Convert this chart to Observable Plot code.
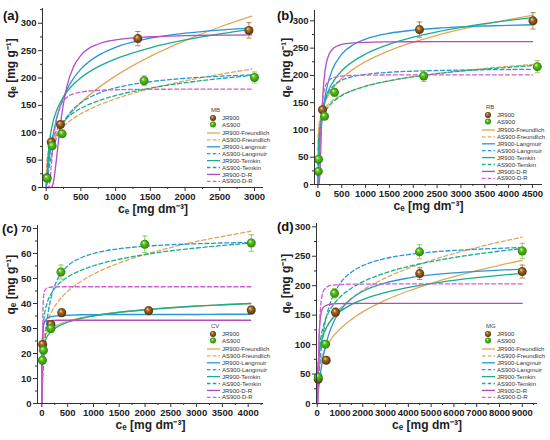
<!DOCTYPE html>
<html>
<head>
<meta charset="utf-8">
<script src="https://cdn.jsdelivr.net/npm/d3@7"></script>
<script src="https://cdn.jsdelivr.net/npm/@observablehq/plot@0.6"></script>
<style>
  body { margin: 0; background: #fff; }
  #grid { position: relative; width: 550px; height: 440px; overflow: hidden; font-family: "Liberation Sans", Arial, sans-serif; }
  .panel { position: absolute; width: 275px; height: 220px; }
  .panel svg.plotsvg { position: absolute; left: 0; top: 0; }
  .tag { position: absolute; font: bold 13px "Liberation Sans", Arial, sans-serif; color: #111; line-height: 1; }
  .legend { position: absolute; overflow: visible; }
</style>
</head>
<body>
<div id="grid"></div>
<script>
// ---------------- DATA ----------------
const modelNames = ["Freundlich", "Langmuir", "Temkin", "D-R"];
const samples = ["JR900", "AS900"];
const dyes = ["MB", "RB", "CV", "MG"];
const panelTags = ["(a)", "(b)", "(c)", "(d)"];

// Panel (a) MB
const ceA = [0, 10, 25, 50, 75, 100, 150, 200, 300, 400, 500, 750, 1000, 1500, 2000, 2500, 2960];
const jrFreundlichA = [0, 32.9, 47.3, 62.3, 73.1, 82, 96.2, 107.9, 126.6, 141.9, 155, 182, 204, 239.5, 268.4, 293.2, 313];
const jrLangmuirA   = [0, 13.4, 31.4, 57.1, 78.5, 96.6, 125.5, 147.7, 179.3, 200.8, 216.3, 241.3, 256, 272.7, 281.9, 287.6, 291.3];
const jrTemkinA     = [null, 5.7, 51.3, 85.8, 106, 120.3, 140.5, 154.9, 175, 189.4, 200.5, 220.7, 235, 255.2, 269.5, 280.6, 289];
const jrDRA         = [0, 0, 0, 0, 0.4, 6.9, 54, 111, 185.6, 222.2, 241.5, 262.2, 269.8, 275.4, 277.4, 278.3, 278.8];
const asFreundlichA = [0, 47.6, 60.7, 73, 81.3, 87.8, 97.8, 105.6, 117.6, 127, 134.7, 150.1, 162, 180.5, 194.8, 206.7, 216.5];
const asLangmuirA   = [0, 9.9, 23.3, 42.1, 57.7, 70.6, 91.2, 107, 129.3, 144.3, 154.9, 171.9, 182, 193.2, 199.4, 203.3, 205.8];
const asTemkinA     = [null, 13, 43.7, 67, 80.7, 90.4, 104, 113.8, 127.4, 137.1, 144.6, 158.3, 168, 181.7, 191.4, 198.9, 204.6];
const asDRA         = [0, 0, 0, 7.3, 43.4, 80.9, 126.1, 147.4, 164.7, 171.2, 174.3, 177.5, 178.6, 179.4, 179.6, 179.8, 179.8];
const jrPtsCeA = [10, 72, 206, 1320, 2920], jrPtsQA = [18, 83, 115, 272, 287], jrPtsErrA = [3, 4, 5, 13, 14];
const asPtsCeA = [14, 86, 230, 1410, 3000], asPtsQA = [17, 76, 98, 195, 201], asPtsErrA = [3, 4, 5, 9, 10];

// Panel (b) RB
const ceB = [0, 10, 25, 50, 75, 100, 150, 200, 300, 500, 750, 1000, 1500, 2000, 2500, 3000, 3500, 4000, 4500];
const jrFreundlichB = [0, 84.9, 103.1, 119.4, 130.1, 138.3, 150.7, 160.2, 174.6, 194.5, 212, 225.3, 245.5, 261, 273.6, 284.4, 293.9, 302.2, 310];
const jrLangmuirB   = [0, 21.4, 48.3, 83.3, 109.8, 130.5, 160.9, 182.2, 209.9, 238.9, 256.7, 266.6, 277.3, 282.9, 286.5, 288.9, 290.6, 291.9, 292.9];
const jrTemkinB     = [null, 34.8, 75.4, 106.2, 124.2, 137, 155, 167.8, 185.8, 208.5, 226.4, 239.2, 257.2, 270, 279.9, 288, 294.8, 300.8, 306];
const jrDRB         = [0, 0, 0.1, 33.8, 105.5, 157, 208.7, 230.5, 247.5, 256.7, 259.6, 260.7, 261.4, 261.7, 261.8, 261.9, 261.9, 262, 262];
const asFreundlichB = [0, 97.6, 110.3, 120.9, 127.6, 132.6, 139.9, 145.4, 153.4, 164.2, 173.3, 180.1, 190.1, 197.5, 203.4, 208.4, 212.7, 216.6, 220];
const asLangmuirB   = [0, 30.6, 62.9, 97.3, 118.9, 133.8, 152.9, 164.6, 178.3, 191.1, 198.1, 201.9, 205.8, 207.8, 209, 209.8, 210.4, 210.8, 211.2];
const asTemkinB     = [null, 65.1, 88.1, 105.4, 115.5, 122.7, 132.8, 140, 150.2, 163, 173.1, 180.3, 190.4, 197.6, 203.2, 207.8, 211.6, 214.9, 217.9];
const asDRB         = [0, 0, 2.6, 67.5, 123.8, 153, 178.1, 187.7, 195, 198.8, 200, 200.5, 200.8, 200.9, 200.9, 201, 201, 201, 201];
const jrPtsCeB = [97, 2130, 4510], jrPtsQB = [137, 284, 300], jrPtsErrB = [4, 14, 15];
const asPtsCeB = [8, 13, 139, 348, 2220, 4600], asPtsQB = [24, 46, 125, 169, 199, 216], asPtsErrB = [3, 3, 5, 7, 10, 11];

// Panel (c) CV
const ceC = [0, 2, 5, 10, 20, 30, 50, 100, 200, 300, 500, 750, 1000, 1500, 2000, 2500, 3000, 3500, 4050];
const jrFreundlichC = [0, 19.7, 21.5, 22.9, 24.4, 25.4, 26.6, 28.4, 30.3, 31.4, 33, 34.2, 35.2, 36.5, 37.5, 38.3, 38.9, 39.5, 40];
const jrLangmuirC   = [0, 10.2, 17.9, 23.8, 28.6, 30.6, 32.5, 34, 34.8, 35.1, 35.3, 35.5, 35.5, 35.6, 35.6, 35.6, 35.6, 35.7, 35.7];
const jrTemkinC     = [null, 12.6, 15.9, 18.4, 20.9, 22.4, 24.2, 26.7, 29.2, 30.7, 32.5, 34, 35, 36.5, 37.5, 38.3, 39, 39.5, 40];
const jrDRC         = [0, 0, 4.5, 20.2, 29.4, 31.5, 32.6, 33.1, 33.2, 33.3, 33.3, 33.3, 33.3, 33.3, 33.3, 33.3, 33.3, 33.3, 33.3];
const asFreundlichC = [0, 14.5, 17.5, 20.1, 23.2, 25.2, 28, 32.2, 37.2, 40.4, 44.9, 48.7, 51.7, 56.2, 59.6, 62.4, 64.8, 66.8, 68.9];
const asLangmuirC   = [0, 1.3, 3.1, 6, 11, 15.2, 22, 33, 44, 49.5, 55, 58.2, 60, 61.9, 62.9, 63.5, 63.9, 64.2, 64.4];
const asTemkinC     = [null, 14.7, 20.7, 25.2, 29.7, 32.3, 35.6, 40.1, 44.6, 47.3, 50.6, 53.2, 55.1, 57.7, 59.6, 61.1, 62.2, 63.2, 64.2];
const asDRC         = [0, 0, 0.9, 17.2, 36.4, 41.8, 44.9, 46.2, 46.6, 46.7, 46.7, 46.7, 46.7, 46.7, 46.7, 46.7, 46.7, 46.7, 46.7];
const jrPtsCeC = [15, 175, 385, 2070, 4060], jrPtsQC = [23.6, 31.6, 36.3, 37.1, 37.4], jrPtsErrC = [1, 1.2, 1.5, 1.5, 1.5];
const asPtsCeC = [10, 30, 175, 370, 1995, 4060], asPtsQC = [17.3, 21.3, 30, 52.6, 63.7, 64.2], asPtsErrC = [1, 1, 1.5, 2.8, 3.3, 3.3];

// Panel (d) MG
const ceD = [0, 10, 20, 30, 50, 75, 100, 150, 200, 300, 500, 700, 1000, 1500, 2000, 3000, 4000, 5000, 6000, 7000, 8000, 9000];
const jrFreundlichD = [0, 32.2, 39.6, 44.7, 52, 58.6, 63.9, 72, 78.4, 88.5, 103, 113.8, 126.5, 142.7, 155.5, 175.4, 191, 204.1, 215.4, 225.5, 234.7, 243];
const jrLangmuirD   = [0, 4.4, 8.7, 12.8, 20.6, 29.6, 37.9, 52.8, 65.6, 86.6, 116.5, 136.7, 157.2, 177.9, 190.5, 204.9, 213, 218.2, 221.8, 224.4, 226.4, 228];
const jrTemkinD     = [null, 19.7, 40.2, 52.2, 67.3, 79.3, 87.8, 99.8, 108.3, 120.3, 135.5, 145.4, 156, 168, 176.5, 188.5, 197, 203.6, 209, 213.6, 217.5, 221];
const jrDRD         = [0, 0, 0, 6.5, 52.6, 100.9, 126.8, 149.2, 158, 164.5, 168, 169, 169.5, 169.8, 169.9, 170, 170, 170, 170, 170, 170, 170];
const asFreundlichD = [0, 49.5, 59.1, 65.6, 74.7, 82.9, 89.2, 99, 106.6, 118.3, 134.8, 146.9, 160.9, 178.5, 192.2, 213.2, 229.5, 243, 254.6, 264.8, 274, 282.4];
const asLangmuirD   = [0, 7.6, 14.9, 21.7, 34.4, 48.5, 61.1, 82.5, 100, 126.9, 161.8, 183.3, 203.7, 223, 234, 246.3, 252.9, 257, 259.8, 261.9, 263.5, 264.7];
const asTemkinD     = [null, 7.9, 33.9, 49.1, 68.2, 83.5, 94.2, 109.5, 120.2, 135.4, 154.6, 167.2, 180.6, 195.8, 206.6, 221.8, 232.6, 241, 247.8, 253.6, 258.6, 263];
const asDRD         = [0, 0, 0, 1.1, 31.4, 88.5, 127.3, 164.9, 180.6, 192.7, 199.2, 201.1, 202, 202.6, 202.8, 202.9, 203, 203, 203, 203, 203, 203];
const jrPtsCeD = [45, 395, 805, 4500, 9000], jrPtsQD = [41, 73.5, 155, 220.5, 224], jrPtsErrD = [3, 4, 7, 10, 11];
const asPtsCeD = [44, 366, 761, 4490, 9000], asPtsQD = [45, 100.7, 187, 257.5, 259], asPtsErrD = [3, 5, 8, 12, 13];

// Tick values
const xTicksA = [0, 500, 1000, 1500, 2000, 2500, 3000];
const xTicksB = [0, 500, 1000, 1500, 2000, 2500, 3000, 3500, 4000, 4500];
const xTicksC = [0, 500, 1000, 1500, 2000, 2500, 3000, 3500, 4000];
const xTicksD = [0, 1000, 2000, 3000, 4000, 5000, 6000, 7000, 8000, 9000];
const yTicksA = [0, 50, 100, 150, 200, 250, 300];
const yTicksB = [0, 50, 100, 150, 200, 250, 300];
const yTicksC = [0, 10, 20, 30, 40, 50, 60, 70];
const yTicksD = [0, 50, 100, 150, 200, 250, 300];

const xTitle = "c\u2091 [mg dm\u207B\u00B3]";
const yTitle = "q\u2091 [mg g\u207B\u00B9]";

// ---------------- STYLE ----------------
const modelColors = {
  JR900: {"Freundlich": "#e2a85a", "Langmuir": "#2996d6", "Temkin": "#18ad8b", "D-R": "#b34cbf"},
  AS900: {"Freundlich": "#e2a85a", "Langmuir": "#2996d6", "Temkin": "#18ad8b", "D-R": "#d35ecd"}
};
const errColor = {JR900: "#a87c40", AS900: "#86c64a"};
const gradStops = {
  JR900: [["0", "#f3dcae"], ["0.35", "#a36b27"], ["1", "#4a2806"]],
  AS900: [["0", "#e4ffc4"], ["0.35", "#58c21f"], ["1", "#2a7a08"]]
};

const panels = [
  {key: "a", left: 0, top: 0, ce: ceA,
   curves: [jrFreundlichA, asFreundlichA, jrLangmuirA, asLangmuirA, jrTemkinA, asTemkinA, jrDRA, asDRA],
   pts: [[jrPtsCeA, jrPtsQA, jrPtsErrA], [asPtsCeA, asPtsQA, asPtsErrA]],
   xDomain: [-53, 3130], yDomain: [0, 327], xTicks: xTicksA, xMinorStep: 250, yTicks: yTicksA, yMinorStep: 25,
   m: {left: 42, right: 12, top: 8, bottom: 33}, tagPos: [3, 9]},
  {key: "b", left: 275, top: 0, ce: ceB,
   curves: [jrFreundlichB, asFreundlichB, jrLangmuirB, asLangmuirB, jrTemkinB, asTemkinB, jrDRB, asDRB],
   pts: [[jrPtsCeB, jrPtsQB, jrPtsErrB], [asPtsCeB, asPtsQB, asPtsErrB]],
   xDomain: [-71, 4710], yDomain: [0, 319], xTicks: xTicksB, xMinorStep: 250, yTicks: yTicksB, yMinorStep: 25,
   m: {left: 39, right: 8, top: 10, bottom: 36}, tagPos: [2, 9]},
  {key: "c", left: 0, top: 220, ce: ceC,
   curves: [jrFreundlichC, asFreundlichC, jrLangmuirC, asLangmuirC, jrTemkinC, asTemkinC, jrDRC, asDRC],
   pts: [[jrPtsCeC, jrPtsQC, jrPtsErrC], [asPtsCeC, asPtsQC, asPtsErrC]],
   xDomain: [-85, 4297], yDomain: [0, 71.2], xTicks: xTicksC, xMinorStep: 250, yTicks: yTicksC, yMinorStep: 5,
   m: {left: 37, right: 12, top: 5, bottom: 37}, tagPos: [2, 2]},
  {key: "d", left: 275, top: 220, ce: ceD,
   curves: [jrFreundlichD, asFreundlichD, jrLangmuirD, asLangmuirD, jrTemkinD, asTemkinD, jrDRD, asDRD],
   pts: [[jrPtsCeD, jrPtsQD, jrPtsErrD], [asPtsCeD, asPtsQD, asPtsErrD]],
   xDomain: [-31, 9670], yDomain: [0, 305.6], xTicks: xTicksD, xMinorStep: 500, yTicks: yTicksD, yMinorStep: 25,
   m: {left: 41, right: 13, top: 3, bottom: 37}, tagPos: [2, 0]}
];

const capSymbol = {
  draw(context, size) {
    const r = Math.sqrt(size / Math.PI);
    context.moveTo(-r, 0);
    context.lineTo(r, 0);
  }
};

function minorTicks(domain, step, majors) {
  const out = [];
  for (let v = Math.ceil(domain[0] / step) * step; v <= domain[1]; v += step) {
    if (v >= 0 && !majors.includes(v)) out.push(v);
  }
  return out;
}

function gradDefs(prefix) {
  return samples.map(s => `<radialGradient id="${prefix}-${s}" cx="0.5" cy="0.5" r="0.55" fx="0.36" fy="0.3">` +
    gradStops[s].map(([o, c]) => `<stop offset="${o}" stop-color="${c}"/>`).join("") +
    `</radialGradient>`).join("");
}

const grid = document.getElementById("grid");

panels.forEach((p, pi) => {
  const div = document.createElement("div");
  div.className = "panel";
  div.style.left = p.left + "px";
  div.style.top = p.top + "px";
  grid.appendChild(div);

  const marks = [];
  // model curves
  p.curves.forEach((vals, ci) => {
    const sample = samples[ci % 2];
    const model = modelNames[Math.floor(ci / 2)];
    const data = p.ce.map((x, i) => ({x, y: vals[i]})).filter(d => d.y != null);
    marks.push(Plot.line(data, {
      x: "x", y: "y", curve: "monotone-x",
      stroke: modelColors[sample][model], strokeWidth: 1.3,
      strokeDasharray: sample === "AS900" ? "4,2.6" : null
    }));
  });
  // experimental points
  p.pts.forEach(([ce, q, err], si) => {
    const sample = samples[si];
    const data = ce.map((x, i) => ({x, y: q[i], e: err[i]}));
    marks.push(Plot.ruleX(data, {x: "x", y1: d => d.y - d.e, y2: d => d.y + d.e, stroke: errColor[sample], strokeWidth: 0.9}));
    marks.push(Plot.dot(data, {x: "x", y: d => d.y + d.e, symbol: capSymbol, r: 2.6, fill: "none", stroke: errColor[sample], strokeWidth: 0.9}));
    marks.push(Plot.dot(data, {x: "x", y: d => d.y - d.e, symbol: capSymbol, r: 2.6, fill: "none", stroke: errColor[sample], strokeWidth: 0.9}));
    marks.push(Plot.dot(data, {x: "x", y: "y", r: 4.5, fill: `url(#g${p.key}-${sample})`, stroke: "none"}));
  });
  // axes
  marks.push(
    Plot.ruleX([p.xDomain[0]], {stroke: "#333", strokeWidth: 1}),
    Plot.ruleY([p.yDomain[0]], {stroke: "#333", strokeWidth: 1}),
    Plot.axisX({ticks: p.xTicks, tickSize: 4, tickPadding: 2, tickFormat: d => String(d), label: null, stroke: "#333", fill: "#222"}),
    Plot.axisX({ticks: minorTicks(p.xDomain, p.xMinorStep, p.xTicks), tickSize: 2, tickFormat: () => "", label: null, stroke: "#333"}),
    Plot.axisY({ticks: p.yTicks, tickSize: 4, tickPadding: 2, tickFormat: d => String(d), label: null, stroke: "#333", fill: "#222"}),
    Plot.axisY({ticks: minorTicks(p.yDomain, p.yMinorStep, p.yTicks), tickSize: 2, tickFormat: () => "", label: null, stroke: "#333"}),
    Plot.text([xTitle], {text: d => d, frameAnchor: "bottom", dy: 25, fontSize: 12, fontWeight: "bold", fill: "#222"}),
    Plot.text([yTitle], {text: d => d, frameAnchor: "left", dx: -p.m.left + 11, rotate: -90, fontSize: 12, fontWeight: "bold", fill: "#222"})
  );

  const svg = Plot.plot({
    width: 275, height: 220,
    marginLeft: p.m.left, marginRight: p.m.right, marginTop: p.m.top, marginBottom: p.m.bottom,
    x: {domain: p.xDomain},
    y: {domain: p.yDomain},
    style: {fontFamily: "'Liberation Sans', Arial, sans-serif", fontSize: "9.5px", fontWeight: "bold", background: "transparent", overflow: "visible"},
    marks
  });
  svg.classList.add("plotsvg");
  const defs = document.createElementNS("http://www.w3.org/2000/svg", "defs");
  defs.innerHTML = gradDefs("g" + p.key);
  svg.insertBefore(defs, svg.firstChild);
  div.appendChild(svg);

  // panel tag
  const tag = document.createElement("div");
  tag.className = "tag";
  tag.textContent = panelTags[pi];
  tag.style.left = p.tagPos[0] + "px";
  tag.style.top = p.tagPos[1] + "px";
  div.appendChild(tag);

  // legend
  const axisY = 220 - p.m.bottom;
  const lgTop = axisY - 82;
  const lgLeft = 205;
  const rows = [];
  rows.push(`<text x="6" y="7" font-size="6" fill="#444">${dyes[pi]}</text>`);
  samples.forEach((s, i) => {
    const cy = 13 + i * 6.6;
    rows.push(`<circle cx="8" cy="${cy}" r="3" fill="url(#l${p.key}-${s})"/>`);
    rows.push(`<text x="17" y="${cy + 2.1}" font-size="6" fill="#333">${s}</text>`);
  });
  modelNames.forEach((mn, mi) => {
    samples.forEach((s, si) => {
      const cy = 28 + (mi * 2 + si) * 6.9;
      rows.push(`<line x1="2" x2="15" y1="${cy}" y2="${cy}" stroke="${modelColors[s][mn]}" stroke-width="1.3" ${s === "AS900" ? 'stroke-dasharray="3.5,2.3"' : ""}/>`);
      rows.push(`<text x="17" y="${cy + 2.1}" font-size="6" fill="#333">${s}-${mn}</text>`);
    });
  });
  const lg = document.createElementNS("http://www.w3.org/2000/svg", "svg");
  lg.setAttribute("class", "legend");
  lg.setAttribute("width", "70");
  lg.setAttribute("height", "82");
  lg.style.left = lgLeft + "px";
  lg.style.top = lgTop + "px";
  lg.style.fontFamily = "'Liberation Sans', Arial, sans-serif";
  lg.innerHTML = `<defs>${gradDefs("l" + p.key)}</defs>` + rows.join("");
  div.appendChild(lg);
});
</script>
</body>
</html>
